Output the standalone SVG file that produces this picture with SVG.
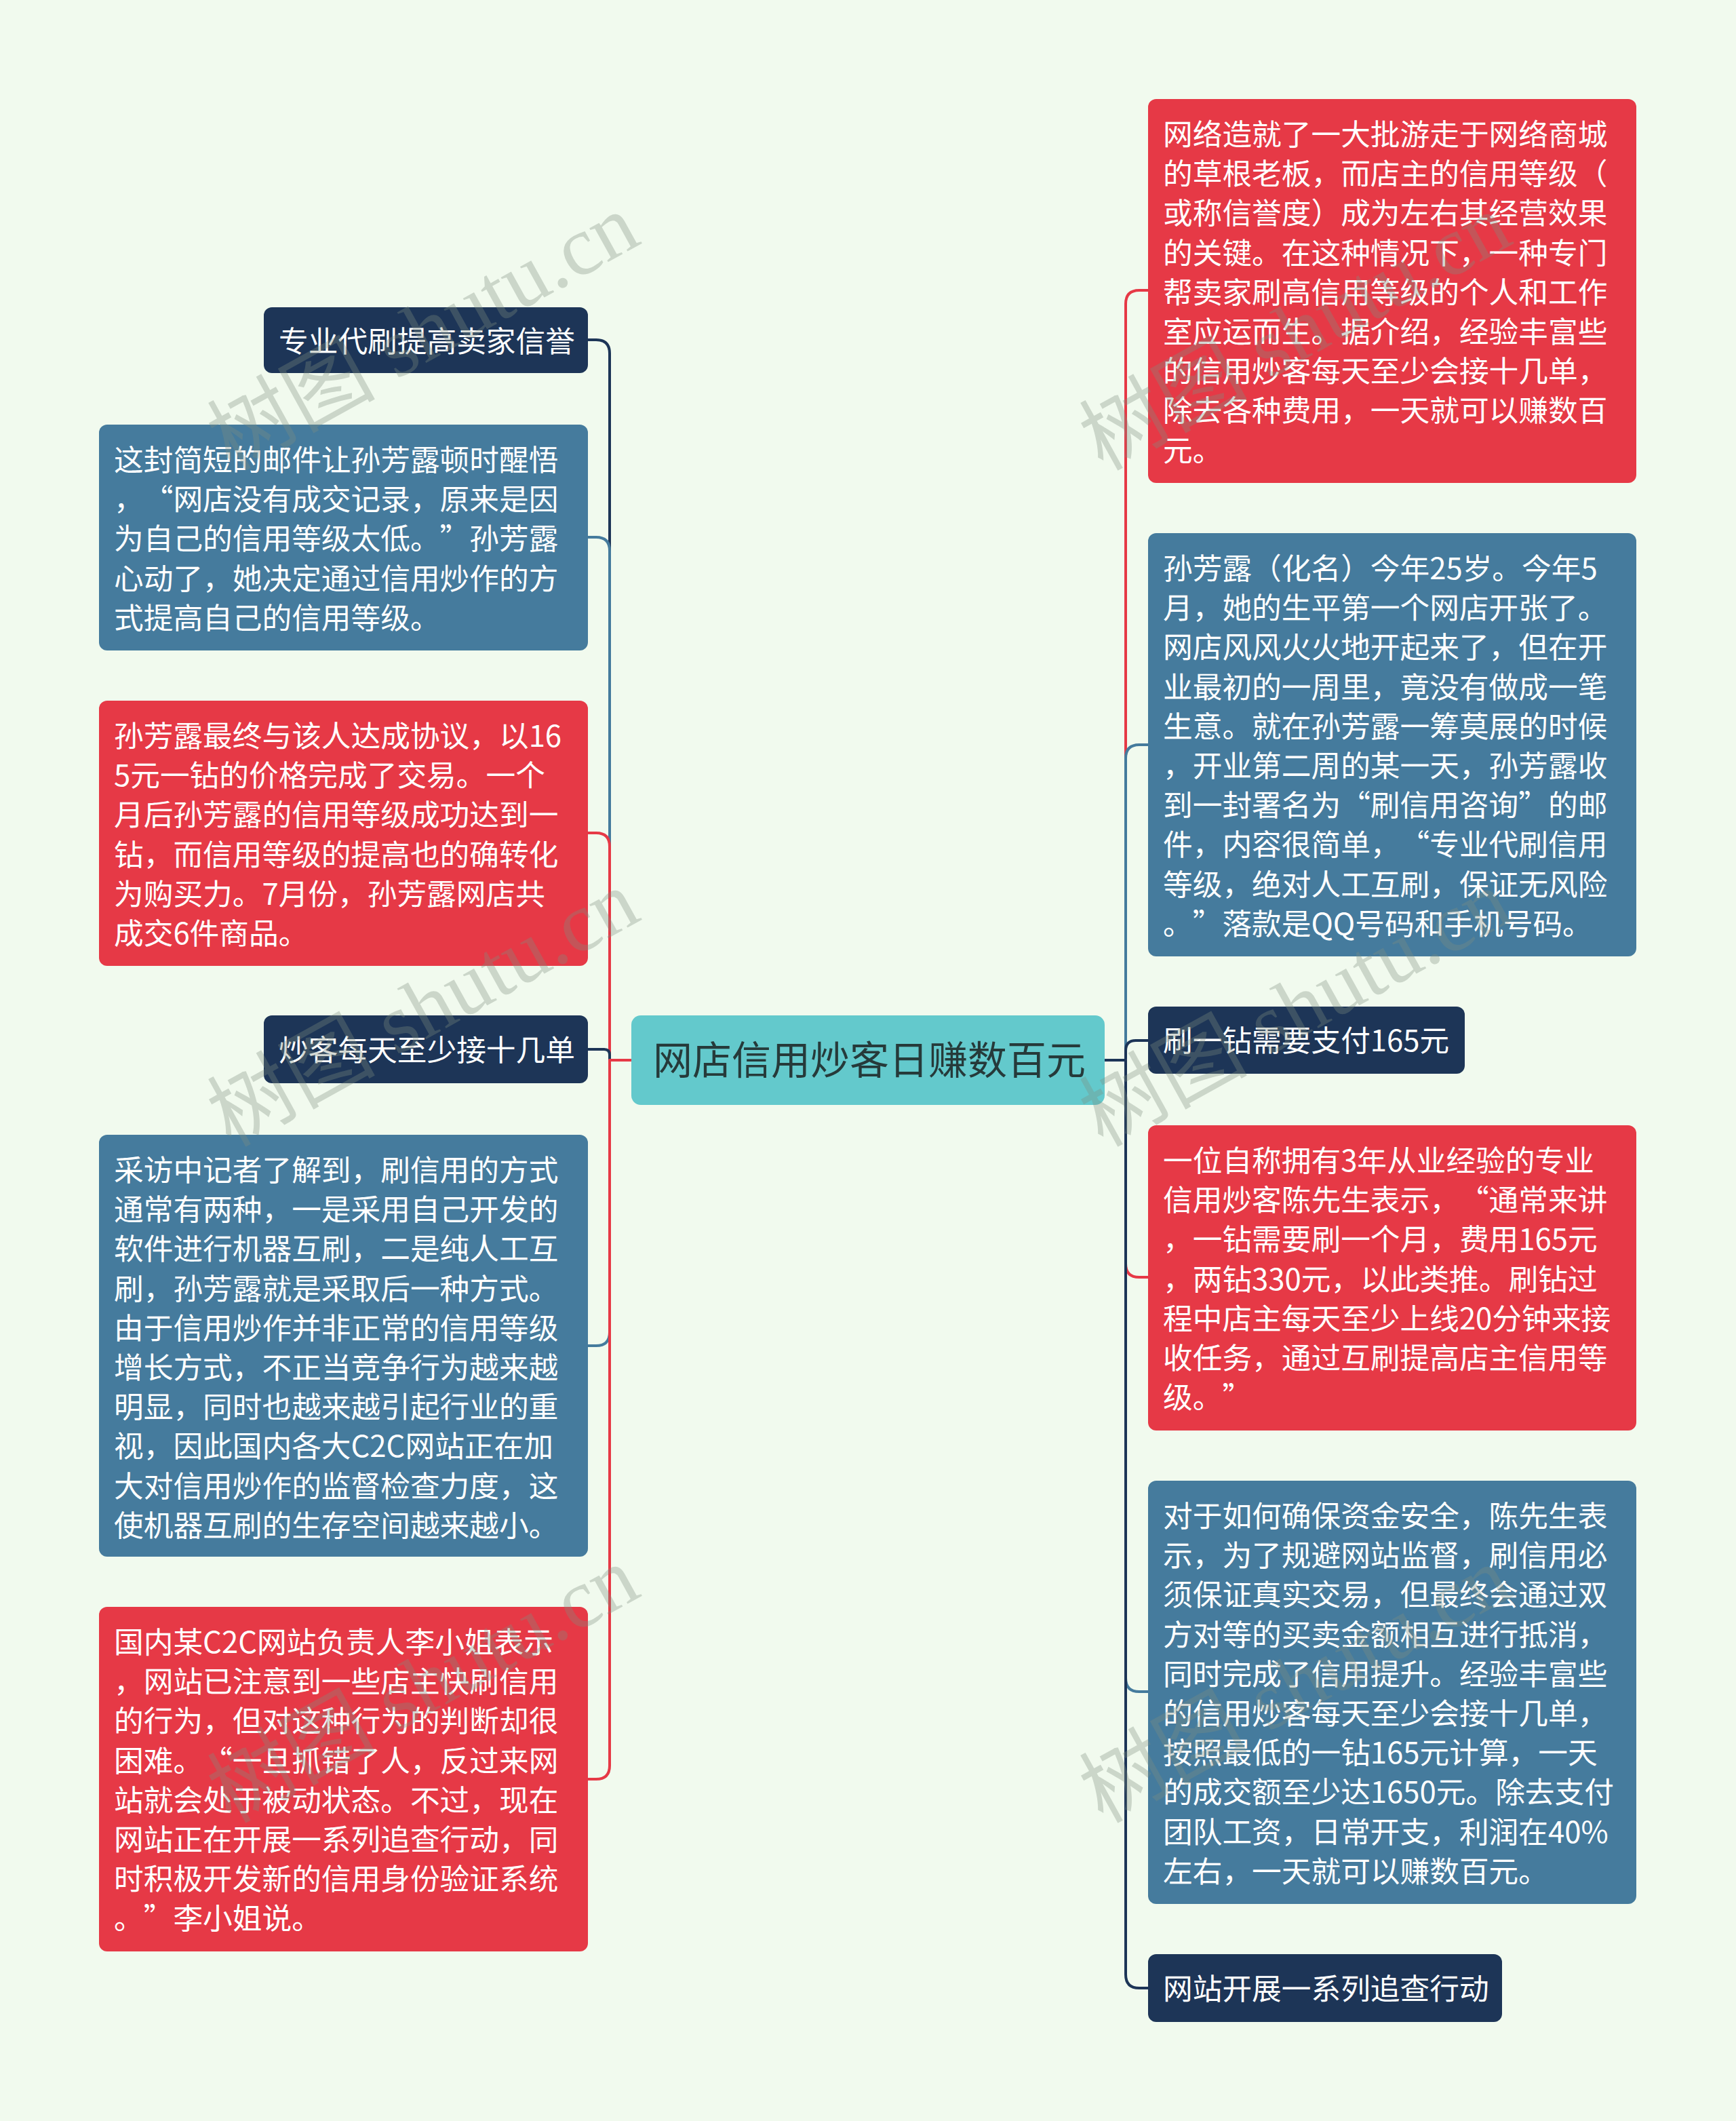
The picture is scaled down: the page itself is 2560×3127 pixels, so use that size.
<svg xmlns="http://www.w3.org/2000/svg" xml:lang="zh-CN" lang="zh-CN" width="2560" height="3127" viewBox="0 0 2560 3127">
<style>
.bg{fill:#F1FAEE}
.red{fill:#E63946}
.blue{fill:#457B9D}
.navy{fill:#1D3557}
.center{fill:#63C9CC}
.t{font-family:"Noto Sans CJK SC","Noto Sans",sans-serif;font-size:43.7px;fill:#FFFFFF;text-spacing-trim:space-all}
.ct{font-family:"Noto Sans CJK SC","Noto Sans",sans-serif;font-size:58px;fill:#263A3A}
.c{fill:none;stroke-width:4;stroke-linecap:butt;stroke-linejoin:round}
.cr{stroke:#E63946}
.cb{stroke:#457B9D}
.cn{stroke:#1D3557}
.wm{font-family:"Liberation Serif","Noto Sans CJK SC",serif;font-size:124px;fill:#7F8F80;opacity:0.33}
</style>
<rect class="bg" x="0" y="0" width="2560" height="3127"/>

<g id="connectors">
  <path class="c cr" d="M1629 1563 H1660 V448 Q1660 428 1680 428 H1693"/>
  <path class="c cb" d="M1629 1563 H1660 V1118 Q1660 1098 1680 1098 H1693"/>
  <path class="c cn" d="M1629 1563 H1660 V1549 Q1660 1534 1675 1534 H1693"/>
  <path class="c cr" d="M1629 1563 H1660 V1863 Q1660 1883 1680 1883 H1693"/>
  <path class="c cb" d="M1629 1563 H1660 V2474 Q1660 2494 1680 2494 H1693"/>
  <path class="c cn" d="M1629 1563 H1660 V2911 Q1660 2931 1680 2931 H1693"/>
  <path class="c cn" d="M931 1563 H899 V521 Q899 501 879 501 H867"/>
  <path class="c cb" d="M931 1563 H899 V812 Q899 792 879 792 H867"/>
  <path class="c cr" d="M931 1563 H899 V1248 Q899 1228 879 1228 H867"/>
  <path class="c cn" d="M931 1563 H899 V1555 Q899 1547 891 1547 H867"/>
  <path class="c cb" d="M931 1563 H899 V1964 Q899 1984 879 1984 H867"/>
  <path class="c cr" d="M931 1563 H899 V2603 Q899 2623 879 2623 H867"/>
</g>

<g id="root">
  <rect class="center" x="931" y="1497" width="698" height="132" rx="14"/>
  <text class="ct" x="1282" y="1584" text-anchor="middle">网店信用炒客日赚数百元</text>
</g>

<g id="r1">
  <rect class="red" x="1693" y="146" width="720" height="566" rx="12"/>
  <text class="t">
    <tspan x="1715" y="214">网络造就了一大批游走于网络商城</tspan>
    <tspan x="1715" y="272.2">的草根老板，而店主的信用等级（</tspan>
    <tspan x="1715" y="330.4">或称信誉度）成为左右其经营效果</tspan>
    <tspan x="1715" y="388.6">的关键。在这种情况下，一种专门</tspan>
    <tspan x="1715" y="446.8">帮卖家刷高信用等级的个人和工作</tspan>
    <tspan x="1715" y="505">室应运而生。据介绍，经验丰富些</tspan>
    <tspan x="1715" y="563.2">的信用炒客每天至少会接十几单，</tspan>
    <tspan x="1715" y="621.4">除去各种费用，一天就可以赚数百</tspan>
    <tspan x="1715" y="679.6">元。</tspan>
  </text>
</g>

<g id="r2">
  <rect class="blue" x="1693" y="786" width="720" height="624" rx="12"/>
  <text class="t">
    <tspan x="1715" y="854">孙芳露（化名）今年25岁。今年5</tspan>
    <tspan x="1715" y="912.2">月，她的生平第一个网店开张了。</tspan>
    <tspan x="1715" y="970.4">网店风风火火地开起来了，但在开</tspan>
    <tspan x="1715" y="1028.6">业最初的一周里，竟没有做成一笔</tspan>
    <tspan x="1715" y="1086.8">生意。就在孙芳露一筹莫展的时候</tspan>
    <tspan x="1715" y="1145">，开业第二周的某一天，孙芳露收</tspan>
    <tspan x="1715" y="1203.2">到一封署名为“刷信用咨询”的邮</tspan>
    <tspan x="1715" y="1261.4">件，内容很简单，“专业代刷信用</tspan>
    <tspan x="1715" y="1319.6">等级，绝对人工互刷，保证无风险</tspan>
    <tspan x="1715" y="1377.8">。”落款是QQ号码和手机号码。</tspan>
  </text>
</g>

<g id="r3">
  <rect class="navy" x="1693" y="1484" width="467" height="99" rx="12"/>
  <text class="t" x="1715" y="1550">刷一钻需要支付165元</text>
</g>

<g id="r4">
  <rect class="red" x="1693" y="1659" width="720" height="450" rx="12"/>
  <text class="t">
    <tspan x="1715" y="1727">一位自称拥有3年从业经验的专业</tspan>
    <tspan x="1715" y="1785.2">信用炒客陈先生表示，“通常来讲</tspan>
    <tspan x="1715" y="1843.4">，一钻需要刷一个月，费用165元</tspan>
    <tspan x="1715" y="1901.6">，两钻330元，以此类推。刷钻过</tspan>
    <tspan x="1715" y="1959.8">程中店主每天至少上线20分钟来接</tspan>
    <tspan x="1715" y="2018">收任务，通过互刷提高店主信用等</tspan>
    <tspan x="1715" y="2076.2">级。”</tspan>
  </text>
</g>

<g id="r5">
  <rect class="blue" x="1693" y="2183" width="720" height="624" rx="12"/>
  <text class="t">
    <tspan x="1715" y="2251">对于如何确保资金安全，陈先生表</tspan>
    <tspan x="1715" y="2309.2">示，为了规避网站监督，刷信用必</tspan>
    <tspan x="1715" y="2367.4">须保证真实交易，但最终会通过双</tspan>
    <tspan x="1715" y="2425.6">方对等的买卖金额相互进行抵消，</tspan>
    <tspan x="1715" y="2483.8">同时完成了信用提升。经验丰富些</tspan>
    <tspan x="1715" y="2542">的信用炒客每天至少会接十几单，</tspan>
    <tspan x="1715" y="2600.2">按照最低的一钻165元计算，一天</tspan>
    <tspan x="1715" y="2658.4">的成交额至少达1650元。除去支付</tspan>
    <tspan x="1715" y="2716.6">团队工资，日常开支，利润在40%</tspan>
    <tspan x="1715" y="2774.8">左右，一天就可以赚数百元。</tspan>
  </text>
</g>

<g id="r6">
  <rect class="navy" x="1693" y="2881" width="522" height="100" rx="12"/>
  <text class="t" x="1715" y="2948">网站开展一系列追查行动</text>
</g>

<g id="l1">
  <rect class="navy" x="389" y="453" width="478" height="97" rx="12"/>
  <text class="t" x="411" y="519">专业代刷提高卖家信誉</text>
</g>

<g id="l2">
  <rect class="blue" x="146" y="626" width="721" height="333" rx="12"/>
  <text class="t">
    <tspan x="168" y="694">这封简短的邮件让孙芳露顿时醒悟</tspan>
    <tspan x="168" y="752.2">，“网店没有成交记录，原来是因</tspan>
    <tspan x="168" y="810.4">为自己的信用等级太低。”孙芳露</tspan>
    <tspan x="168" y="868.6">心动了，她决定通过信用炒作的方</tspan>
    <tspan x="168" y="926.8">式提高自己的信用等级。</tspan>
  </text>
</g>

<g id="l3">
  <rect class="red" x="146" y="1033" width="721" height="391" rx="12"/>
  <text class="t">
    <tspan x="168" y="1101">孙芳露最终与该人达成协议，以16</tspan>
    <tspan x="168" y="1159.2">5元一钻的价格完成了交易。一个</tspan>
    <tspan x="168" y="1217.4">月后孙芳露的信用等级成功达到一</tspan>
    <tspan x="168" y="1275.6">钻，而信用等级的提高也的确转化</tspan>
    <tspan x="168" y="1333.8">为购买力。7月份，孙芳露网店共</tspan>
    <tspan x="168" y="1392">成交6件商品。</tspan>
  </text>
</g>

<g id="l4">
  <rect class="navy" x="389" y="1497" width="478" height="100" rx="12"/>
  <text class="t" x="411" y="1564">炒客每天至少接十几单</text>
</g>

<g id="l5">
  <rect class="blue" x="146" y="1673" width="721" height="622" rx="12"/>
  <text class="t">
    <tspan x="168" y="1741">采访中记者了解到，刷信用的方式</tspan>
    <tspan x="168" y="1799.2">通常有两种，一是采用自己开发的</tspan>
    <tspan x="168" y="1857.4">软件进行机器互刷，二是纯人工互</tspan>
    <tspan x="168" y="1915.6">刷，孙芳露就是采取后一种方式。</tspan>
    <tspan x="168" y="1973.8">由于信用炒作并非正常的信用等级</tspan>
    <tspan x="168" y="2032">增长方式，不正当竞争行为越来越</tspan>
    <tspan x="168" y="2090.2">明显，同时也越来越引起行业的重</tspan>
    <tspan x="168" y="2148.4">视，因此国内各大C2C网站正在加</tspan>
    <tspan x="168" y="2206.6">大对信用炒作的监督检查力度，这</tspan>
    <tspan x="168" y="2264.8">使机器互刷的生存空间越来越小。</tspan>
  </text>
</g>

<g id="l6">
  <rect class="red" x="146" y="2369" width="721" height="508" rx="12"/>
  <text class="t">
    <tspan x="168" y="2437">国内某C2C网站负责人李小姐表示</tspan>
    <tspan x="168" y="2495.2">，网站已注意到一些店主快刷信用</tspan>
    <tspan x="168" y="2553.4">的行为，但对这种行为的判断却很</tspan>
    <tspan x="168" y="2611.6">困难。“一旦抓错了人，反过来网</tspan>
    <tspan x="168" y="2669.8">站就会处于被动状态。不过，现在</tspan>
    <tspan x="168" y="2728">网站正在开展一系列追查行动，同</tspan>
    <tspan x="168" y="2786.2">时积极开发新的信用身份验证系统</tspan>
    <tspan x="168" y="2844.4">。”李小姐说。</tspan>
  </text>
</g>

<g id="watermarks">
  <text class="wm" transform="translate(340 695) rotate(-29)">树图 shutu.cn</text>
  <text class="wm" transform="translate(340 1692) rotate(-29)">树图 shutu.cn</text>
  <text class="wm" transform="translate(340 2689) rotate(-29)">树图 shutu.cn</text>
  <text class="wm" transform="translate(1626 695) rotate(-29)">树图 shutu.cn</text>
  <text class="wm" transform="translate(1626 1692) rotate(-29)">树图 shutu.cn</text>
  <text class="wm" transform="translate(1626 2689) rotate(-29)">树图 shutu.cn</text>
</g>
</svg>
